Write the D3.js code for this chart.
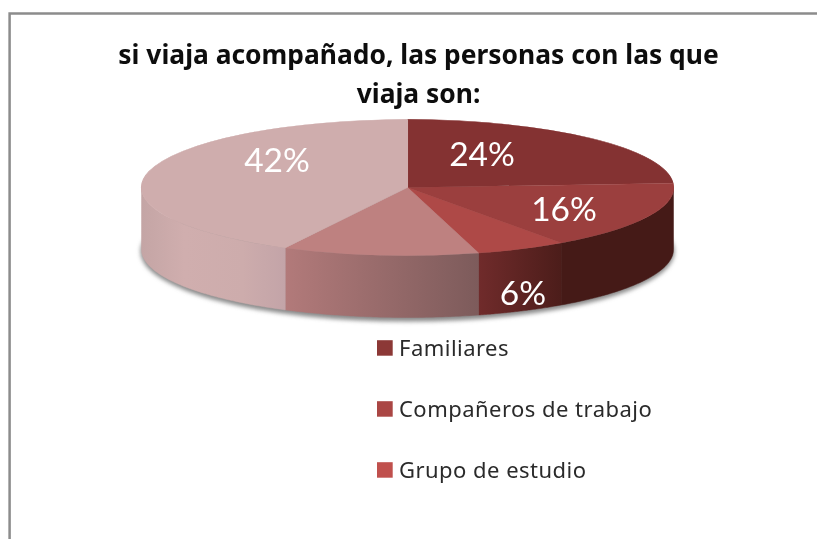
<!DOCTYPE html>
<html><head><meta charset="utf-8">
<script src="https://cdn.jsdelivr.net/npm/d3@7"></script>
<style>html,body{margin:0;padding:0;background:#fff}svg{display:block}</style>
</head><body><svg id="c" width="817" height="539"></svg>
<script>
const title = ["si viaja acompañado, las personas con las que", "viaja son:"];
const categories = ["Familiares", "Compañeros de trabajo", "Grupo de estudio", "Otros", "Solo"];
const values = [24, 16.2, 5.5, 11.9, 42.4];
const labelled = [true, true, true, false, true];
const legendItems = ["Familiares", "Compañeros de trabajo", "Grupo de estudio"];
const topColors = ["#843232", "#9b3f3e", "#ae4947", "#be8180", "#cfadad"];
const legendColors = ["#8c3836", "#aa4644", "#c0504d"];
const sideStops = [
  [["#451a17", 0], ["#451a17", 1]],
  [["#451a17", 0], ["#451a17", 1]],
  [["#702b2b", 0], ["#4c1d1a", 1]],
  [["#b27a7a", 0], ["#7d5b5b", 1]],
  [["#c4a5a5", 0], ["#d0aeae", .3], ["#cdacac", .7], ["#c3a4a8", 1]]
];

const cx = 407.5, cy = 187.5, rx = 266, ry = 68, depth = 62;
const svg = d3.select("#c");
const defs = svg.append("defs");
defs.append("filter").attr("id", "soft").append("feGaussianBlur").attr("stdDeviation", 2.2);
defs.append("filter").attr("id", "tx").append("feGaussianBlur").attr("stdDeviation", 0.35);

// frame
svg.append("path").attr("d", d3.line()([[9.6, 539], [9.6, 13.5], [817, 13.5]]))
  .attr("fill", "none").attr("stroke", "#8c8c8c").attr("stroke-width", 2.5);

const pie = d3.pie().value(d => d).sort(null);
const arcs = pie(values);
const ex = d3.scaleLinear().domain([0, 1]).range([cx, cx + rx]);
const ey = d3.scaleLinear().domain([0, 1]).range([cy, cy + ry]);
const pt = (a, dy = 0) => [ex(Math.sin(a)), ey(-Math.cos(a)) + dy];

// shadow
svg.append("ellipse").attr("cx", cx).attr("cy", cy + depth + 2)
  .attr("rx", rx + 1).attr("ry", ry + 2).attr("fill", "#8a8a8a")
  .attr("filter", "url(#soft)");

// side walls
function wall(a0, a1) {
  const n = 60, top = [], bot = [];
  d3.range(n + 1).forEach(i => {
    const a = a0 + (a1 - a0) * i / n;
    top.push(pt(a)); bot.push(pt(a, depth));
  });
  return d3.line()(top.concat(bot.reverse())) + "Z";
}
arcs.forEach((d, i) => {
  const a0 = Math.max(d.startAngle, Math.PI / 2), a1 = Math.min(d.endAngle, Math.PI * 3 / 2);
  if (a0 >= a1) return;
  const xs = [pt(a0)[0], pt(a1)[0]];
  const gid = "side" + i;
  const g = defs.append("linearGradient").attr("id", gid).attr("gradientUnits", "userSpaceOnUse")
    .attr("x1", d3.min(xs)).attr("x2", d3.max(xs)).attr("y1", 0).attr("y2", 0);
  sideStops[i].forEach(s => g.append("stop").attr("offset", s[1]).attr("stop-color", s[0]));
  svg.append("path").attr("d", wall(a0, a1)).attr("fill", `url(#${gid})`)
    .attr("stroke", `url(#${gid})`).attr("stroke-width", .5);
});

// top face
const arc = d3.arc().innerRadius(0).outerRadius(1);
const face = svg.append("g").attr("transform", `translate(${cx},${cy}) scale(${rx},${ry})`);
face.selectAll("path").data(arcs).join("path")
  .attr("d", arc).attr("fill", (d, i) => topColors[i])
  .attr("stroke", (d, i) => topColors[i]).attr("stroke-width", 0.004);

// title
const tg = svg.append("g").attr("font-family", "'Noto Sans', sans-serif").attr("font-weight", 700)
  .attr("font-size", 26.4).attr("fill", "#111").attr("text-anchor", "middle").attr("filter", "url(#tx)");
tg.selectAll("text").data(title).join("text")
  .attr("x", 418.5).attr("y", (d, i) => 63.5 + i * 39.5).text(d => d);

// data labels
const labelPos = [[482, 166], [564, 221], [523, 304.5], null, [277, 172]];
const lg = svg.append("g").attr("font-family", "Lato, sans-serif").attr("font-size", 33.5)
  .attr("fill", "#fff").attr("text-anchor", "middle").attr("filter", "url(#tx)");
values.forEach((v, i) => {
  if (!labelled[i]) return;
  lg.append("text").attr("x", labelPos[i][0]).attr("y", labelPos[i][1]).text(Math.round(v) + "%");
});

// legend
const ly = d3.scalePoint().domain(legendItems).range([348, 470]);
const leg = svg.append("g").attr("font-family", "'Noto Sans', sans-serif").attr("font-size", 22).attr("letter-spacing", 0.47);
legendItems.forEach((t, i) => {
  leg.append("rect").attr("x", 377).attr("y", ly(t) - 7.8).attr("width", 15.7).attr("height", 15.5).attr("fill", legendColors[i]);
  leg.append("text").attr("x", 399).attr("y", ly(t) + 7.5).attr("fill", "#2a2a2a").attr("filter", "url(#tx)").text(t);
});
</script></body></html>
